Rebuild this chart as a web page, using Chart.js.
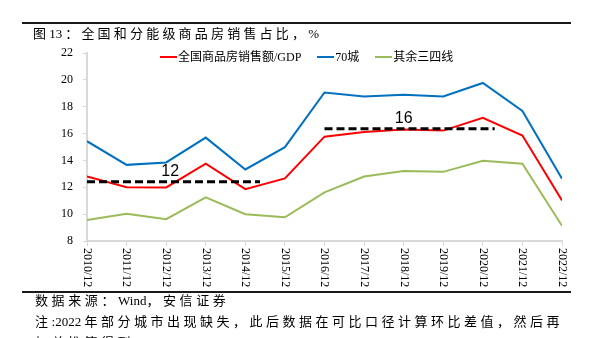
<!DOCTYPE html>
<html lang="zh-CN">
<head>
<meta charset="utf-8">
<title>全国和分能级商品房销售占比</title>
<script src="https://cdn.jsdelivr.net/npm/chart.js@4.4.1/dist/chart.umd.min.js"></script>
<style>
  html, body { margin: 0; padding: 0; background: #fff; }
  #fig {
    position: relative; width: 593px; height: 338px; overflow: hidden;
    font-family: "Liberation Serif", "Noto Sans CJK SC", serif; color: #000;
  }
  #fig canvas { position: absolute; left: 0; top: 0; }
  .rule { position: absolute; left: 22px; width: 549px; height: 2px; background: #1a1a1a; }
  .rule.top { top: 22px; }
  .rule.bottom { top: 291px; }
  #title {
    position: absolute; left: 33px; top: 25px; font-size: 13px; line-height: 18px;
    letter-spacing: 3.2px; white-space: nowrap;
  }
  #title .tight { margin-right: 3px; }
  #legend {
    position: absolute; top: 50px; left: 160px; display: flex;
    font-size: 12px; line-height: 14px; white-space: nowrap;
  }
  .lg-item { display: flex; align-items: center; margin-right: 16px; }
  .lg-swatch { width: 17px; height: 2px; margin-right: 1px; }
  .note { position: absolute; left: 35px; font-size: 13px; line-height: 18px; white-space: nowrap; letter-spacing: 3.5px; }
  .note.src { letter-spacing: 3.6px; }
  .tight { letter-spacing: 0; }
</style>
</head>
<body>
<div id="fig">
  <canvas id="cpp-share-chart" width="593" height="338"></canvas>
  <div class="rule top"></div>
  <div id="title">图<span class="tight">13</span>：全国和分能级商品房销售占比，%</div>
  <div id="legend"></div>
  <div class="rule bottom"></div>
  <div class="note src" style="top:292px">数据来源：<span class="tight">Wind</span>，安信证券</div>
  <div class="note" style="top:313px">注<span class="tight">:2022 </span>年部分城市出现缺失，此后数据在可比口径计算环比差值，然后再</div>
  <div class="note" style="top:334px">加总推算得到</div>
</div>
<script>
// 年末时点
const years = ['2010/12', '2011/12', '2012/12', '2013/12', '2014/12', '2015/12', '2016/12',
               '2017/12', '2018/12', '2019/12', '2020/12', '2021/12', '2022/12'];

// 销售额占 GDP 比重，%
const nationalShare = [12.80, 12.01, 11.99, 13.76, 11.86, 12.66, 15.77, 16.12, 16.30, 16.22, 17.17, 15.85, 11.02];
const city70Share   = [15.43, 13.67, 13.85, 15.70, 13.33, 14.99, 19.06, 18.77, 18.90, 18.77, 19.77, 17.68, 12.64];
const tier34Share   = [9.57, 10.03, 9.62, 11.25, 10.00, 9.77, 11.62, 12.80, 13.22, 13.15, 13.97, 13.75, 9.13];

const seriesNames = ['全国商品房销售额/GDP', '70城', '其余三四线'];

// 两段时期的均值水平（起止按年份序号）
const avgStart = [0, 6];
const avgEnd   = [4.37, 10.3];
const avgValue = [12.42, 16.35];

const yTicks = [8, 10, 12, 14, 16, 18, 20, 22];

const seriesColors = ['#FF0000', '#0070C0', '#9BBB59'];
const avgLabelAt = [2.1, 8.0];

function toPoints(values) {
    return values.map((v, i) => ({ x: i, y: v }));
}

function buildLegend() {
    const box = document.getElementById('legend');
    box.innerHTML = seriesNames.map((name, i) => `
        <div class="lg-item">
            <span class="lg-swatch" style="background:${seriesColors[i]}"></span>
            <span>${name}</span>
        </div>`).join('');
}

// 竖排的年份标签和均值标注
const labelPlugin = {
    id: 'shareLabels',
    afterDraw(chart) {
        const { ctx, scales: { x, y } } = chart;
        ctx.save();
        ctx.fillStyle = '#000';
        ctx.font = '12px "Liberation Serif"';
        ctx.textAlign = 'left';
        ctx.textBaseline = 'middle';
        years.forEach((label, i) => {
            ctx.save();
            ctx.translate(x.getPixelForValue(i), y.bottom + 7);
            ctx.rotate(Math.PI / 2);
            ctx.fillText(label, 0, 0);
            ctx.restore();
        });

        ctx.font = '16px "Liberation Sans"';
        ctx.textAlign = 'center';
        avgValue.forEach((v, i) => {
            ctx.fillText(String(Math.round(v)), x.getPixelForValue(avgLabelAt[i]), y.getPixelForValue(v) - 10);
        });
        ctx.restore();
    }
};

function render() {
    buildLegend();

    const seriesValues = [nationalShare, city70Share, tier34Share];
    const datasets = seriesValues.map((values, i) => ({
        label: seriesNames[i],
        data: toPoints(values),
        borderColor: seriesColors[i],
        borderWidth: 2,
        pointRadius: 0,
        tension: 0,
        order: 2
    }));

    avgValue.forEach((v, i) => {
        datasets.push({
            label: 'avg' + i,
            data: [{ x: avgStart[i], y: v }, { x: avgEnd[i], y: v }],
            borderColor: '#000',
            borderWidth: 3,
            borderDash: [8, 4],
            pointRadius: 0,
            order: 1
        });
    });

    new Chart(document.getElementById('cpp-share-chart'), {
        type: 'line',
        data: { datasets },
        options: {
            responsive: false,
            animation: false,
            devicePixelRatio: 1,
            layout: { padding: { left: 0, right: 31, top: 53, bottom: 0 } },
            plugins: { legend: { display: false }, tooltip: { enabled: false } },
            scales: {
                x: {
                    type: 'linear',
                    min: 0,
                    max: years.length - 1,
                    ticks: { stepSize: 1, display: false },
                    grid: { drawOnChartArea: false, tickLength: 5, color: '#d9d9d9' },
                    border: { color: '#d9d9d9', width: 2 },
                    afterFit(scale) { scale.height = 97; }
                },
                y: {
                    min: yTicks[0],
                    max: yTicks[yTicks.length - 1],
                    afterBuildTicks(scale) { scale.ticks = yTicks.map(v => ({ value: v })); },
                    ticks: { color: '#000', padding: 10, font: { family: 'Liberation Serif', size: 12 } },
                    grid: { drawOnChartArea: false, tickLength: 4, color: '#d9d9d9' },
                    border: { color: '#d9d9d9', width: 2 },
                    afterFit(scale) { scale.width = 87; }
                }
            }
        },
        plugins: [labelPlugin]
    });
}

document.addEventListener('DOMContentLoaded', render);
</script>
</body>
</html>
